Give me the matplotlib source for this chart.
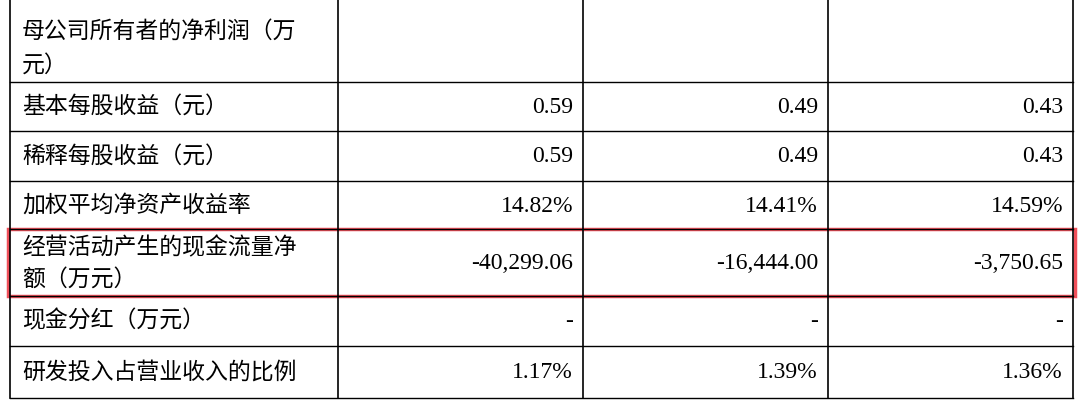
import matplotlib.pyplot as plt

labels = [["母公司所有者的净利润（万", "元）"],
          ["基本每股收益（元）"],
          ["稀释每股收益（元）"],
          ["加权平均净资产收益率"],
          ["经营活动产生的现金流量净", "额（万元）"],
          ["现金分红（万元）"],
          ["研发投入占营业收入的比例"]]
col1 = ["", "0.59", "0.59", "14.82%", "-40,299.06", "-", "1.17%"]
col2 = ["", "0.49", "0.49", "14.41%", "-16,444.00", "-", "1.39%"]
col3 = ["", "0.43", "0.43", "14.59%", "-3,750.65", "-", "1.36%"]

row_edges = [0, 82, 131, 181, 229, 296, 346, 398]
col_edges = [10, 338, 583, 828, 1073]


def main():
    fig = plt.figure(figsize=(10.8, 4.04), dpi=100)
    ax = fig.add_axes([0, 0, 1, 1])
    ax.set_xlim(0, 1080)
    ax.set_ylim(404, 0)
    ax.axis('off')

    for y in row_edges[1:]:
        ax.plot([col_edges[0], col_edges[-1]], [y, y], color='black', lw=1)
    for x in col_edges:
        ax.plot([x, x], [row_edges[0], row_edges[-1]], color='black', lw=1.2)

    cjk = ['Noto Sans CJK SC', 'DejaVu Sans']
    for i, lab in enumerate(labels):
        top, bot = row_edges[i], row_edges[i + 1]
        if len(lab) == 1:
            ax.text(22, (top + bot) / 2, lab[0], family=cjk, fontsize=16.5,
                    va='center', ha='left')
        elif i == 0:
            ax.text(22, 31, lab[0], family=cjk, fontsize=16.5,
                    va='center', ha='left')
            ax.text(22, 65, lab[1], family=cjk, fontsize=16.5,
                    va='center', ha='left')
        else:
            ax.text(22, top + 19, lab[0], family=cjk, fontsize=16.5,
                    va='center', ha='left')
            ax.text(22, bot - 17, lab[1], family=cjk, fontsize=16.5,
                    va='center', ha='left')
        for j, col in enumerate([col1, col2, col3]):
            ax.text(col_edges[j + 2] - 10, (top + bot) / 2 + 1, col[i],
                    family='Liberation Serif', fontsize=17,
                    va='center', ha='right')

    box = plt.Rectangle((8, 229), 1067, 67, fill=False, ec='#f0505a', lw=2.5)
    ax.add_patch(box)

    fig.savefig('out.png', dpi=100)


if __name__ == '__main__':
    main()
